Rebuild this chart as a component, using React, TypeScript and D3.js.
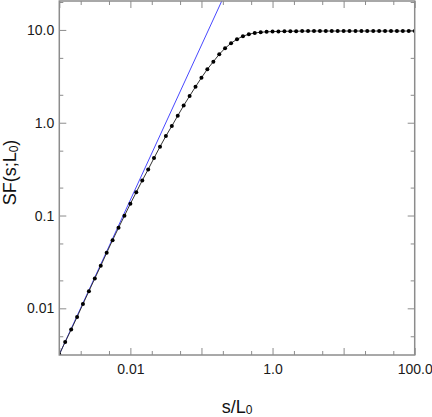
import React, { useEffect, useRef } from "react";
import * as d3 from "d3";

// separation s/L0 (12 samples per decade) and the structure function
const sepX = [
  0.001, 0.00121, 0.00147, 0.00178, 0.00215, 0.00261, 0.00316, 0.00383, 0.00464, 0.00562, 0.00681, 0.00825,
  0.01, 0.0121, 0.0147, 0.0178, 0.0215, 0.0261, 0.0316, 0.0383, 0.0464, 0.0562, 0.0681, 0.0825,
  0.1, 0.121, 0.147, 0.178, 0.215, 0.261, 0.316, 0.383, 0.464, 0.562, 0.681, 0.825,
  1.0, 1.21, 1.47, 1.78, 2.15, 2.61, 3.16, 3.83, 4.64, 5.62, 6.81, 8.25,
  10, 12.1, 14.7, 17.8, 21.5, 26.1, 31.6, 38.3, 46.4, 56.2, 68.1, 82.5,
  100,
];
const sfY = [
  0.00318, 0.00434, 0.0059, 0.00807, 0.0111, 0.0153, 0.021, 0.0287, 0.0396, 0.0543, 0.0737, 0.0993,
  0.134, 0.178, 0.239, 0.314, 0.416, 0.551, 0.719, 0.921, 1.19, 1.53, 1.94, 2.44,
  3.06, 3.77, 4.55, 5.47, 6.35, 7.19, 7.94, 8.55, 8.99, 9.28, 9.44, 9.54,
  9.6, 9.64, 9.67, 9.69, 9.7, 9.71, 9.72, 9.73, 9.73, 9.73, 9.73, 9.73,
  9.73, 9.73, 9.73, 9.73, 9.73, 9.73, 9.73, 9.73, 9.73, 9.73, 9.73, 9.73,
  9.73,
];

// power-law asymptote (blue)
const powerX = [0.001, 0.2];
const powerY = [0.00318, 21.75];

const xMajor = [0.001, 0.01, 0.1, 1, 10, 100];
const xMinor = [0.002, 0.005, 0.02, 0.05, 0.2, 0.5, 2, 5, 20, 50];
const xLabelVals = [0.01, 1, 100];
const xLabelText = ["0.01", "1.0", "100.0"];

const yMajor = [0.01, 0.1, 1, 10];
const yMinor = [0.005, 0.02, 0.05, 0.2, 0.5, 2, 5, 20];
const yLabelVals = [0.01, 0.1, 1, 10];
const yLabelText = ["0.01", "0.1", "1.0", "10.0"];

const W = 432;
const H = 417;
const left = 59.3, right = 414.7, top = 1, bottom = 355;
const font = "'Liberation Sans', Arial, Helvetica, sans-serif";
const axisColor = "#8c8c8c";

export default function App() {
  const ref = useRef<SVGSVGElement>(null);

  useEffect(() => {
    const svg = d3.select(ref.current);
    svg.selectAll("*").remove();

    const x = d3.scaleLog().domain([0.001, 100]).range([left, right]);
    const y = d3.scaleLog().domain([0.00314, 20.5]).range([bottom, top]);

    svg.append("defs").append("clipPath").attr("id", "plotclip")
      .append("rect").attr("x", left).attr("y", top)
      .attr("width", right - left).attr("height", bottom - top);

    const styleTicks = (g: any) => {
      g.select(".domain").remove();
      g.selectAll("line").attr("stroke", axisColor).attr("stroke-width", 1);
    };

    // ticks on all four sides, pointing inward
    const tickSets: [number[], number][] = [[xMajor, 7], [xMinor, 4]];
    tickSets.forEach(([vals, len]) => {
      svg.append("g").attr("transform", `translate(0,${bottom})`)
        .call(d3.axisBottom(x).tickValues(vals).tickSize(-len).tickFormat(() => ""))
        .call(styleTicks);
      svg.append("g").attr("transform", `translate(0,${top})`)
        .call(d3.axisTop(x).tickValues(vals).tickSize(-len).tickFormat(() => ""))
        .call(styleTicks);
    });
    const yTickSets: [number[], number][] = [[yMajor, 7], [yMinor, 4]];
    yTickSets.forEach(([vals, len]) => {
      svg.append("g").attr("transform", `translate(${left},0)`)
        .call(d3.axisLeft(y).tickValues(vals).tickSize(-len).tickFormat(() => ""))
        .call(styleTicks);
      svg.append("g").attr("transform", `translate(${right},0)`)
        .call(d3.axisRight(y).tickValues(vals).tickSize(-len).tickFormat(() => ""))
        .call(styleTicks);
    });

    // tick labels
    svg.append("g").attr("transform", `translate(0,${bottom})`)
      .call(d3.axisBottom(x).tickValues(xLabelVals).tickSize(0).tickPadding(9)
        .tickFormat((d, i) => xLabelText[i]))
      .call((g) => g.select(".domain").remove())
      .call((g) => g.selectAll("text").attr("font-family", font).attr("font-size", 14).attr("fill", "#1a1a1a"));
    svg.append("g").attr("transform", `translate(${left},0)`)
      .call(d3.axisLeft(y).tickValues(yLabelVals).tickSize(0).tickPadding(5)
        .tickFormat((d, i) => yLabelText[i]))
      .call((g) => g.select(".domain").remove())
      .call((g) => g.selectAll("text").attr("font-family", font).attr("font-size", 14).attr("fill", "#1a1a1a"));

    const plot = svg.append("g").attr("clip-path", "url(#plotclip)");

    const powerLine = d3.line<number>().x((d) => x(d)).y((d, i) => y(powerY[i]));
    plot.append("path")
      .datum(powerX)
      .attr("d", powerLine)
      .attr("fill", "none")
      .attr("stroke", "#4848ff")
      .attr("stroke-width", 1);

    const sfLine = d3.line<number>().x((d) => x(d)).y((d, i) => y(sfY[i]));
    plot.append("path")
      .datum(sepX)
      .attr("d", sfLine)
      .attr("fill", "none")
      .attr("stroke", "#333")
      .attr("stroke-width", 1);

    plot.selectAll(".pt")
      .data(sepX)
      .join("circle")
      .attr("class", "pt")
      .attr("cx", (d) => x(d))
      .attr("cy", (d, i) => y(sfY[i]))
      .attr("r", 2)
      .attr("fill", "#000");

    // frame
    svg.append("rect")
      .attr("x", left).attr("y", top)
      .attr("width", right - left).attr("height", bottom - top)
      .attr("fill", "none").attr("stroke", axisColor).attr("stroke-width", 1.5);

    // axis titles
    const xt = svg.append("text")
      .attr("x", (left + right) / 2).attr("y", 412.5)
      .attr("text-anchor", "middle")
      .attr("font-family", font).attr("font-size", 18).attr("fill", "#111");
    xt.append("tspan").text("s/L");
    xt.append("tspan").attr("font-size", 12).attr("dy", 1.5).text("0");

    const yt = svg.append("text")
      .attr("transform", `translate(16,172.5) rotate(-90)`)
      .attr("text-anchor", "middle")
      .attr("font-family", font).attr("font-size", 18).attr("fill", "#111");
    yt.append("tspan").text("SF(s;L");
    yt.append("tspan").attr("font-size", 12).attr("dy", 2).text("0");
    yt.append("tspan").attr("dy", -2).text(")");
  }, []);

  return (
    <svg
      ref={ref}
      width={W}
      height={H}
      style={{ position: "absolute", left: 0, top: 0, background: "#fff" }}
    />
  );
}
